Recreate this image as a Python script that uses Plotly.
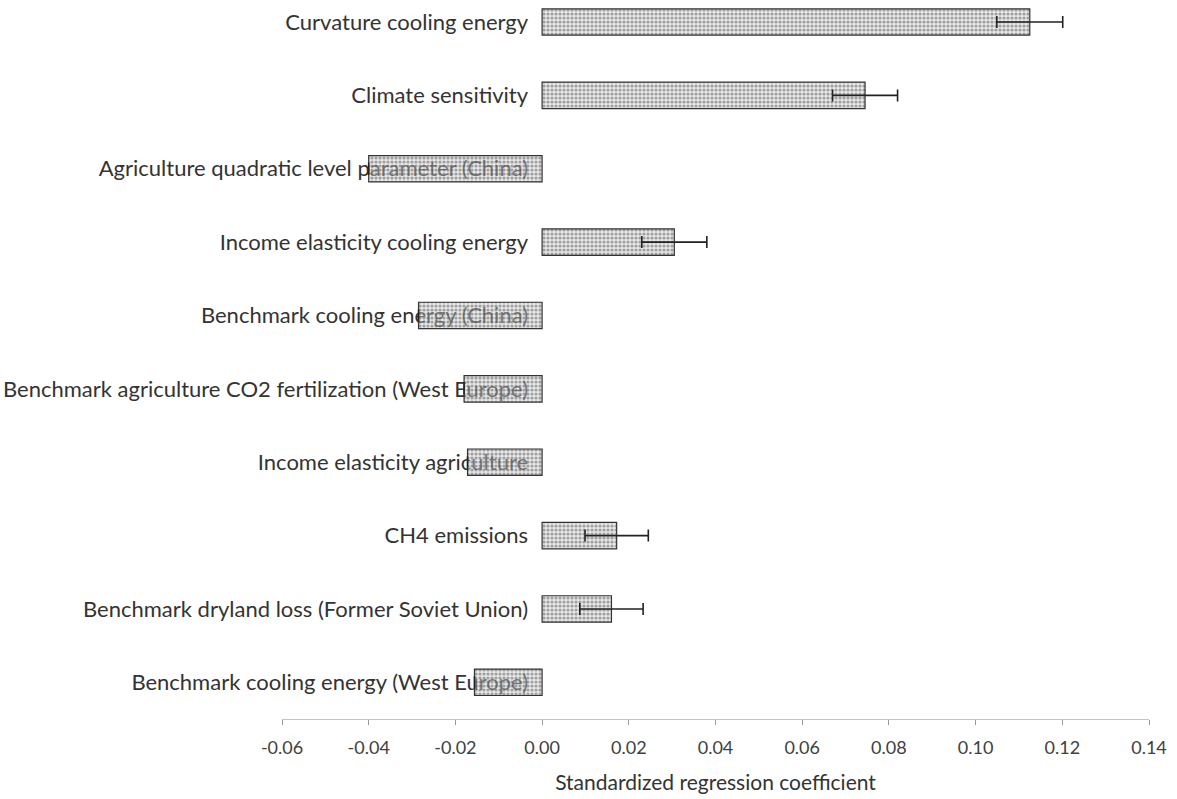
import plotly.graph_objects as go

# Parameters, listed top to bottom
parameters = [
    "Curvature cooling energy",
    "Climate sensitivity",
    "Agriculture quadratic level parameter (China)",
    "Income elasticity cooling energy",
    "Benchmark cooling energy (China)",
    "Benchmark agriculture CO2 fertilization (West Europe)",
    "Income elasticity agriculture",
    "CH4 emissions",
    "Benchmark dryland loss (Former Soviet Union)",
    "Benchmark cooling energy (West Europe)",
]
coefficients = [0.1125, 0.0745, -0.0400, 0.0305, -0.0285, -0.0180, -0.0172, 0.0172, 0.0160, -0.0156]
errors = [0.0076, 0.0075, 0.0, 0.0075, 0.0, 0.0, 0.0, 0.0073, 0.0073, 0.0]
tick_values = [-0.06, -0.04, -0.02, 0.00, 0.02, 0.04, 0.06, 0.08, 0.10, 0.12, 0.14]
tick_text = ["-0.06", "-0.04", "-0.02", "0.00", "0.02", "0.04", "0.06", "0.08", "0.10", "0.12", "0.14"]

# plot bottom-up so the first parameter sits at the top
ys = parameters[::-1]
xs = coefficients[::-1]
es = [e if e > 0 else None for e in errors[::-1]]

fig = go.Figure(
    go.Bar(
        x=xs,
        y=ys,
        orientation="h",
        width=0.36,
        marker=dict(
            color="rgba(205,205,205,0.45)",
            line=dict(color="#333", width=1.2),
            pattern=dict(shape=".", fgcolor="#555", size=4, solidity=0.5),
        ),
        error_x=dict(type="data", array=es, symmetric=True, color="#222", thickness=1.6, width=6),
        showlegend=False,
    )
)

font_family = "Lato, 'Open Sans', sans-serif"

fig.update_layout(
    width=1177,
    height=799,
    margin=dict(l=282, r=28, t=0, b=80),
    paper_bgcolor="white",
    plot_bgcolor="white",
    font=dict(family=font_family, color="#333"),
    xaxis=dict(
        range=[-0.06, 0.14],
        tickvals=tick_values,
        ticktext=tick_text,
        showgrid=False,
        zeroline=False,
        showline=True,
        linecolor="#c4c4c4",
        linewidth=1,
        ticks="outside",
        tickcolor="#9a9a9a",
        ticklen=5,
        tickfont=dict(size=18, color="#404040"),
        ticklabelstandoff=7,
        title=dict(text="Standardized regression coefficient", font=dict(size=21, color="#333"), standoff=18),
    ),
    yaxis=dict(
        categoryorder="array",
        categoryarray=ys,
        range=[-0.5, 9.3],
        anchor="free",
        position=0.3,
        showgrid=False,
        zeroline=False,
        showline=False,
        ticks="",
        tickfont=dict(size=22, color="#333"),
        ticklabelstandoff=14,
        layer="below traces",
    ),
)

fig.write_html("out.html")
